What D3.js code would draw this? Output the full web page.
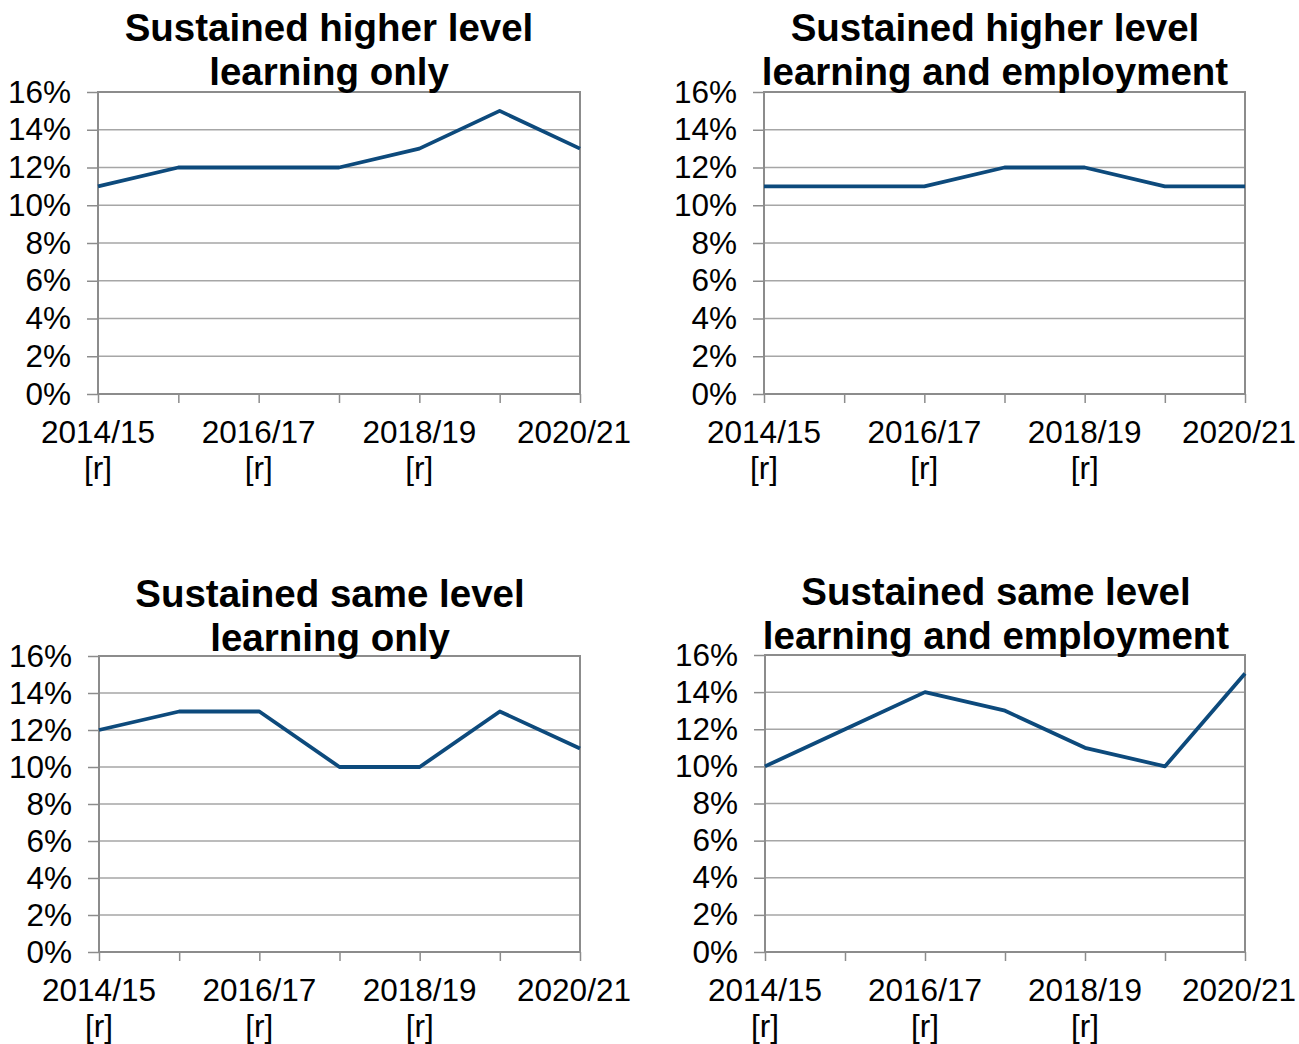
<!DOCTYPE html>
<html>
<head>
<meta charset="utf-8">
<script src="https://cdn.jsdelivr.net/npm/d3@7"></script>
<style>
  body { margin: 0; background: #fff; }
  svg { display: block; }
  text { font-family: "Liberation Sans", Arial, sans-serif; fill: #000; }
</style>
</head>
<body>
<svg id="chart" width="1299" height="1044"></svg>
<script>
// Academic years on the x axis; [r] marks revised figures
const years = ["2014/15", "2015/16", "2016/17", "2017/18", "2018/19", "2019/20", "2020/21"];
const revised = [true, true, true, true, true, false, false];
const labelledYears = ["2014/15", "2016/17", "2018/19", "2020/21"];

// Percentage axis ticks
const yTicks = [0, 2, 4, 6, 8, 10, 12, 14, 16];

// Share of learners (%) in each sustained destination
const higherLearningOnly = [11, 12, 12, 12, 13, 15, 13];
const higherLearningEmployment = [11, 11, 11, 12, 12, 11, 11];
const sameLearningOnly = [12, 13, 13, 10, 10, 13, 11];
const sameLearningEmployment = [10, 12, 14, 13, 11, 10, 15];

const panelTitles = [
  ["Sustained higher level", "learning only"],
  ["Sustained higher level", "learning and employment"],
  ["Sustained same level", "learning only"],
  ["Sustained same level", "learning and employment"]
];
const panelSeries = [higherLearningOnly, higherLearningEmployment, sameLearningOnly, sameLearningEmployment];

// Plot-area boxes for the 2x2 grid
const boxes = [
  { left: 98,  right: 580,  top: 92,  bottom: 394, titleY: 41 },
  { left: 764, right: 1245, top: 92,  bottom: 394, titleY: 41 },
  { left: 99,  right: 580,  top: 656, bottom: 952, titleY: 607 },
  { left: 765, right: 1245, top: 655, bottom: 952, titleY: 605 }
];

const frameColor = "#8c8c8c";
const gridColor = "#a6a6a6";
const lineColor = "#0d4a7c";
const tickFont = 31.5;

const svg = d3.select("#chart");

panelSeries.forEach((values, i) => {
  const b = boxes[i];
  const g = svg.append("g");

  const x = d3.scalePoint().domain(years).range([b.left, b.right]);
  const y = d3.scaleLinear().domain([0, 16]).range([b.bottom, b.top]);

  // Horizontal gridlines
  g.append("g")
    .selectAll("line")
    .data(yTicks.filter(t => t > 0 && t < 16))
    .join("line")
    .attr("x1", b.left).attr("x2", b.right)
    .attr("y1", d => y(d)).attr("y2", d => y(d))
    .attr("stroke", gridColor).attr("stroke-width", 1.5);

  // Y axis with outward ticks
  const yAxis = g.append("g")
    .attr("transform", `translate(${b.left},0)`)
    .call(d3.axisLeft(y).tickValues(yTicks).tickSize(11).tickPadding(16).tickFormat(d => d + "%"));
  yAxis.select(".domain").remove();
  yAxis.selectAll(".tick line").attr("stroke", frameColor).attr("stroke-width", 1.5);
  yAxis.selectAll(".tick text").attr("font-size", tickFont).attr("fill", "#000")
    .style("font-family", '"Liberation Sans", Arial, sans-serif');

  // X axis: a tick at every year, labels on alternate years
  const xAxis = g.append("g")
    .attr("transform", `translate(0,${b.bottom})`)
    .call(d3.axisBottom(x).tickSize(9).tickFormat(""));
  xAxis.select(".domain").remove();
  xAxis.selectAll(".tick line").attr("stroke", frameColor).attr("stroke-width", 1.5);

  const lbl = g.append("g")
    .selectAll("text")
    .data(labelledYears)
    .join("text")
    .attr("text-anchor", "middle")
    .attr("font-size", tickFont)
    .attr("transform", (d, k) => `translate(${x(d) + (k === labelledYears.length - 1 ? -6 : 0)},${b.bottom + 49})`);
  lbl.append("tspan").attr("x", 0).attr("y", 0).text(d => d);
  lbl.append("tspan").attr("x", 0).attr("y", 36)
    .text(d => revised[years.indexOf(d)] ? "[r]" : "");

  // Plot frame
  g.append("rect")
    .attr("x", b.left).attr("y", b.top)
    .attr("width", b.right - b.left).attr("height", b.bottom - b.top)
    .attr("fill", "none").attr("stroke", frameColor).attr("stroke-width", 2);

  // Series line
  const line = d3.line().x((d, k) => x(years[k])).y(d => y(d));
  g.append("path")
    .datum(values)
    .attr("d", line)
    .attr("fill", "none")
    .attr("stroke", lineColor)
    .attr("stroke-width", 3.8)
    .attr("stroke-linejoin", "round");

  // Two-line bold title
  const cx = b.left + 231;
  g.append("text")
    .attr("text-anchor", "middle")
    .attr("font-size", 38.5)
    .attr("font-weight", "bold")
    .selectAll("tspan")
    .data(panelTitles[i])
    .join("tspan")
    .attr("x", cx)
    .attr("y", (d, k) => b.titleY + k * 44)
    .text(d => d);
});
</script>
</body>
</html>
